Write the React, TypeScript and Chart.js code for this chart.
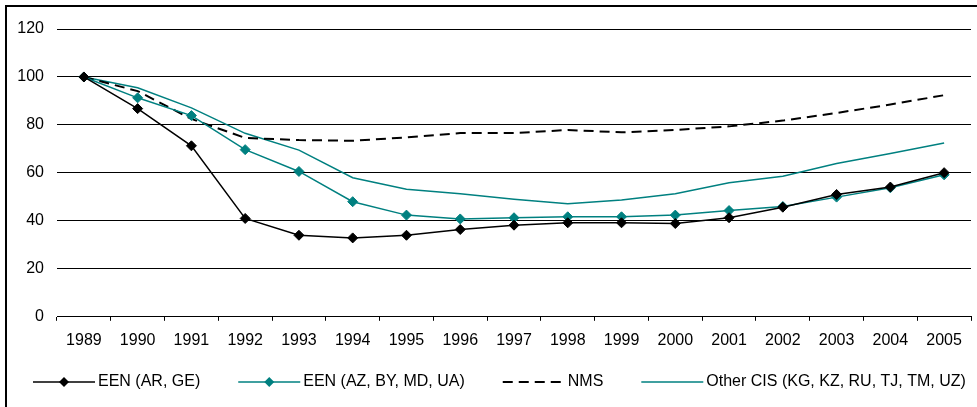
import React, { useEffect, useRef } from "react";
import { Chart, registerables } from "chart.js";

Chart.register(...registerables);

const years = ["1989","1990","1991","1992","1993","1994","1995","1996","1997","1998","1999","2000","2001","2002","2003","2004","2005"];

const eenArGe = [100, 86.8, 71.3, 41, 34, 32.9, 34, 36.4, 38.2, 39.2, 39.2, 38.9, 41.3, 45.7, 51, 54.1, 60.1];
const eenAzByMdUa = [100, 91.3, 83.9, 69.7, 60.6, 48, 42.4, 40.8, 41.3, 41.7, 41.7, 42.4, 44.3, 46, 49.9, 53.8, 59.2];
const nms = [100, 94.1, 82.5, 74.6, 73.7, 73.4, 74.8, 76.6, 76.6, 77.9, 76.9, 77.9, 79.4, 81.8, 85, 88.5, 92.4];
const otherCis = [100, 95.5, 87.1, 76.5, 69.5, 58, 53.2, 51.3, 49, 47.1, 48.7, 51.3, 55.9, 58.6, 63.9, 68.1, 72.5];

const seriesLabels = ["EEN (AR, GE)", "EEN (AZ, BY, MD, UA)", "NMS", "Other CIS (KG, KZ, RU, TJ, TM, UZ)"];
const yTicks = [0, 20, 40, 60, 80, 100, 120];

const TEAL = "#008080";

const legendPlugin = {
  id: "customLegend",
  afterDraw(chart: any) {
    const ctx = chart.ctx;
    const y = 382;
    let x = 33;
    const lineLen = 62;
    ctx.save();
    ctx.font = "16px 'Liberation Sans', Arial, sans-serif";
    ctx.textBaseline = "middle";
    ctx.textAlign = "left";
    chart.data.datasets.forEach((ds: any) => {
      ctx.save();
      ctx.strokeStyle = ds.borderColor;
      ctx.lineWidth = ds.borderWidth;
      ctx.setLineDash(ds.borderDash || []);
      ctx.beginPath();
      ctx.moveTo(x, y);
      ctx.lineTo(x + lineLen, y);
      ctx.stroke();
      ctx.restore();
      if (ds.pointRadius > 0) {
        const cx = x + lineLen / 2;
        const r = ds.pointRadius;
        ctx.save();
        ctx.fillStyle = ds.pointBackgroundColor;
        ctx.beginPath();
        ctx.moveTo(cx - r, y);
        ctx.lineTo(cx, y - r);
        ctx.lineTo(cx + r, y);
        ctx.lineTo(cx, y + r);
        ctx.closePath();
        ctx.fill();
        ctx.restore();
      }
      ctx.fillStyle = "#000";
      const tx = x + lineLen + 3;
      ctx.fillText(ds.label, tx, y);
      x = tx + ctx.measureText(ds.label).width + 38;
    });
    ctx.restore();
  },
};

export default function App() {
  const ref = useRef<HTMLCanvasElement>(null);
  useEffect(() => {
    if (!ref.current) return;
    const tickFont = { family: "'Liberation Sans', Arial, sans-serif", size: 16 };
    const chart = new Chart(ref.current, {
      type: "line",
      data: {
        labels: years,
        datasets: [
          {
            label: seriesLabels[0],
            data: eenArGe,
            borderColor: "#000",
            backgroundColor: "#000",
            borderWidth: 1.5,
            pointStyle: "rectRot",
            pointRadius: 5,
            pointBackgroundColor: "#000",
            pointBorderColor: "#000",
            pointBorderWidth: 1,
            tension: 0,
          },
          {
            label: seriesLabels[1],
            data: eenAzByMdUa,
            borderColor: TEAL,
            backgroundColor: TEAL,
            borderWidth: 1.5,
            pointStyle: "rectRot",
            pointRadius: 5,
            pointBackgroundColor: TEAL,
            pointBorderColor: TEAL,
            pointBorderWidth: 1,
            tension: 0,
          },
          {
            label: seriesLabels[2],
            data: nms,
            borderColor: "#000",
            backgroundColor: "#000",
            borderWidth: 2,
            borderDash: [10, 6],
            pointRadius: 0,
            tension: 0,
          },
          {
            label: seriesLabels[3],
            data: otherCis,
            borderColor: TEAL,
            backgroundColor: TEAL,
            borderWidth: 1.5,
            pointRadius: 0,
            tension: 0,
          },
        ],
      },
      options: {
        responsive: false,
        animation: false,
        layout: { padding: { left: 0, right: 1, top: 29, bottom: 47 } },
        plugins: {
          legend: { display: false },
          tooltip: { enabled: false },
        },
        scales: {
          x: {
            offset: true,
            grid: {
              offset: true,
              drawOnChartArea: false,
              drawTicks: true,
              tickLength: 4,
              color: "#000",
            },
            border: { display: true, color: "#000", width: 1 },
            ticks: { color: "#000", font: tickFont, padding: 10, maxRotation: 0, autoSkip: false },
          },
          y: {
            min: 0,
            max: 120,
            afterFit(scale: any) {
              scale.width = 57;
            },
            afterBuildTicks(scale: any) {
              scale.ticks = yTicks.map((v) => ({ value: v }));
            },
            grid: { color: "#000", lineWidth: 1, drawTicks: false },
            border: { display: false },
            ticks: { color: "#000", font: tickFont, padding: 13 },
          },
        },
      },
      plugins: [legendPlugin],
    });
    return () => chart.destroy();
  }, []);
  return (
    <div style={{ position: "fixed", left: 0, top: 0, width: 977, height: 407, background: "#fff", overflow: "hidden" }}>
      <canvas ref={ref} width={977} height={407} style={{ position: "absolute", left: 0, top: 0 }} />
      <div
        style={{
          position: "absolute",
          left: 5,
          top: 5,
          width: 990,
          height: 420,
          borderTop: "2px solid #000",
          borderLeft: "2px solid #000",
          pointerEvents: "none",
        }}
      />
    </div>
  );
}
